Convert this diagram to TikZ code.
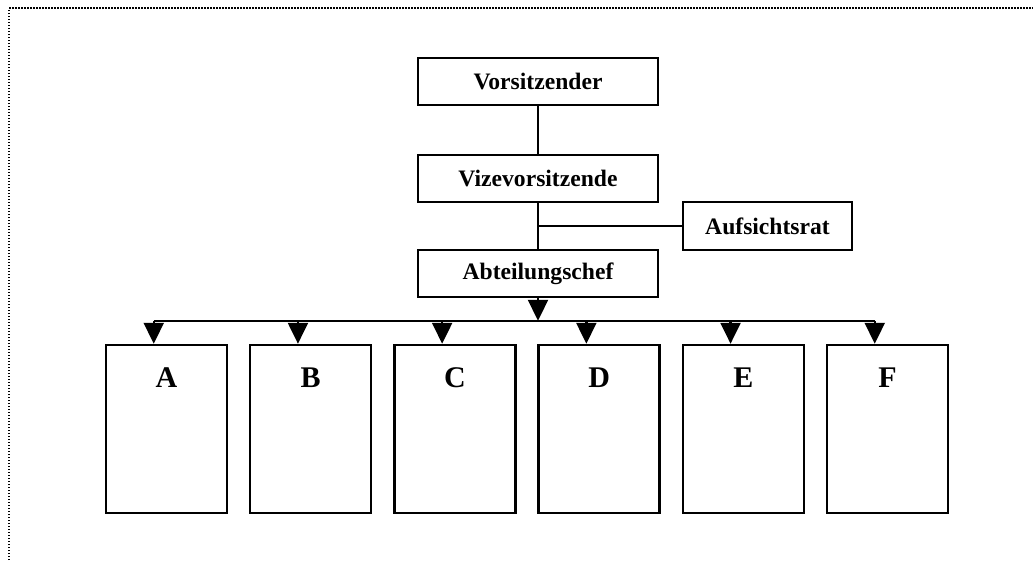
\documentclass[tikz,border=0pt]{standalone}
\usepackage{fontspec}
\setmainfont{Liberation Serif}
\usetikzlibrary{arrows.meta,calc}

\tikzset{
  orgbox/.style={draw, line width=2.5pt, minimum width=240pt, minimum height=47pt,
                 inner sep=0pt, font=\bfseries\fontsize{23.6}{28}\selectfont},
  deptbox/.style={draw, line width=2.5pt, minimum width=121pt, minimum height=168pt,
                  inner sep=0pt},
  deptlabel/.style={anchor=base, inner sep=0pt, font=\bfseries\fontsize{30}{34}\selectfont},
  link/.style={line width=2.3pt},
  arr/.style={line width=2.3pt, -{Triangle[width=20pt,length=21pt]}},
  frame/.style={line width=1.5pt, dash pattern=on 1.5pt off 1.5pt, black}
}

\begin{document}
\begin{tikzpicture}[x=1pt,y=-1pt]
  \useasboundingbox (0,0) rectangle (1033,560);

  % dotted page frame
  \coordinate (fb) at (9,560);
  \coordinate (fc) at (9,8);
  \coordinate (fr) at (1033,8);
  \draw[frame] (fb) -- (fc) -- (fr);

  % management chain
  \node[orgbox] (vors)  at (538,81.5)  {Vorsitzender};
  \node[orgbox] (vize)  at (538,178.5) {Vizevorsitzende};
  \node[orgbox] (abt)   at (538,273.5) {Abteilungschef};
  \node[orgbox, minimum width=169pt, minimum height=48pt] (aufs) at (767.5,226) {Aufsichtsrat};

  \draw[link] (vors) -- (vize);
  \draw[link] (vize) -- (abt);
  \coordinate (tap) at (vize.south |- aufs.west);
  \draw[link] (tap) -- (aufs.west);

  % departments
  \foreach \name [count=\i from 0] in {A,B,C,D,E,F} {
    \node[deptbox] (\name) at ({166.5+144.2*\i},429) {};
    \node[deptlabel] (\name lbl) at ({166.5+144.2*\i},387) {\name};
    \coordinate (\name top) at ($(\name.north west)+(49,0)$);
    \coordinate (\name bus) at ($(\name top)+(0,-23)$);
  }

  % distribution bus with arrows
  \draw[link] (Abus) -- (Fbus);
  \draw[arr] (abt.south) -- (abt.south |- Abus);
  \foreach \name in {A,B,C,D,E,F} {
    \draw[arr] (\name bus) -- (\name top);
  }
\end{tikzpicture}
\end{document}
